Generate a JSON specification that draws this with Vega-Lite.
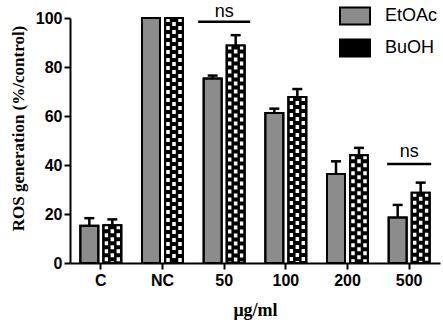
{
  "$schema": "https://vega.github.io/schema/vega-lite/v6.json",
  "width": 370,
  "height": 245,
  "autosize": "none",
  "padding": {"left": 70, "top": 18, "right": 3, "bottom": 61},
  "background": "white",
  "config": {"view": {"stroke": null}, "font": "Liberation Sans"},
  "datasets": {
    "bars": [
      {"dose": "C", "series": "EtOAc", "value": 15.2, "upper": 18.3},
      {"dose": "C", "series": "BuOH", "value": 15.4, "upper": 17.8},
      {"dose": "NC", "series": "EtOAc", "value": 100, "upper": 100},
      {"dose": "NC", "series": "BuOH", "value": 100, "upper": 100},
      {"dose": "50", "series": "EtOAc", "value": 75.3, "upper": 76.5},
      {"dose": "50", "series": "BuOH", "value": 88.8, "upper": 93},
      {"dose": "100", "series": "EtOAc", "value": 61.2, "upper": 63},
      {"dose": "100", "series": "BuOH", "value": 67.8, "upper": 71},
      {"dose": "200", "series": "EtOAc", "value": 36.3, "upper": 41.5},
      {"dose": "200", "series": "BuOH", "value": 44, "upper": 47},
      {"dose": "500", "series": "EtOAc", "value": 18.6, "upper": 23.7},
      {"dose": "500", "series": "BuOH", "value": 28.7, "upper": 32.8}
    ],
    "ns": [
      {"dose": "50", "line": 98.5, "label": 102.6},
      {"dose": "500", "line": 40.4, "label": 45.3}
    ]
  },
  "encoding": {
    "x": {
      "field": "dose",
      "type": "nominal",
      "sort": ["C", "NC", "50", "100", "200", "500"],
      "scale": {"paddingInner": 0, "paddingOuter": 0},
      "axis": {
        "title": "μg/ml",
        "titleFont": "Liberation Serif",
        "titleFontSize": 18,
        "titleFontWeight": "bold",
        "titleColor": "black",
        "titlePadding": 13,
        "labelAngle": 0,
        "labelFont": "Liberation Sans",
        "labelFontSize": 16,
        "labelFontWeight": "bold",
        "labelColor": "black",
        "labelPadding": 3,
        "domainColor": "black",
        "domainWidth": 2,
        "tickColor": "black",
        "tickWidth": 2,
        "tickSize": 6
      }
    }
  },
  "layer": [
    {
      "data": {"name": "bars"},
      "transform": [{"filter": "datum.upper > datum.value"}],
      "mark": {"type": "rule", "color": "black", "strokeWidth": 2.5},
      "encoding": {
        "xOffset": {
          "field": "series",
          "type": "nominal",
          "sort": ["EtOAc", "BuOH"],
          "scale": {"domain": ["EtOAc", "BuOH"], "paddingInner": 0.2174, "paddingOuter": 0.449}
        },
        "y": {
          "field": "value",
          "type": "quantitative",
          "scale": {"domain": [0, 100], "nice": false},
          "axis": {
            "title": "ROS generation (%/control)",
            "titleFont": "Liberation Serif",
            "titleFontSize": 17,
            "titleFontWeight": "bold",
            "titleColor": "black",
            "titleAnchor": "middle",
            "titleBaseline": "bottom",
            "titleAngle": -90,
            "titleX": -43,
            "titleY": 110,
            "values": [0, 20, 40, 60, 80, 100],
            "grid": false,
            "labelFont": "Liberation Sans",
            "labelFontSize": 16,
            "labelFontWeight": "bold",
            "labelColor": "black",
            "labelPadding": 2,
            "domainColor": "black",
            "domainWidth": 2,
            "tickColor": "black",
            "tickWidth": 2,
            "tickSize": 6
          }
        },
        "y2": {"field": "upper"}
      }
    },
    {
      "data": {"name": "bars"},
      "transform": [{"filter": "datum.upper > datum.value"}],
      "mark": {"type": "tick", "color": "black", "opacity": 1, "size": 10, "thickness": 2.5, "orient": "horizontal"},
      "encoding": {
        "xOffset": {"field": "series", "type": "nominal", "sort": ["EtOAc", "BuOH"]},
        "y": {"field": "upper", "type": "quantitative"}
      }
    },
    {
      "data": {"name": "bars"},
      "mark": {"type": "bar", "stroke": "black", "strokeWidth": 2},
      "encoding": {
        "xOffset": {"field": "series", "type": "nominal", "sort": ["EtOAc", "BuOH"]},
        "y": {"field": "value", "type": "quantitative"},
        "color": {
          "field": "series",
          "type": "nominal",
          "scale": {"domain": ["EtOAc", "BuOH"], "range": ["#8c8c8c", "#000000"]},
          "legend": {
            "title": null,
            "orient": "none",
            "legendX": 274,
            "legendY": -13,
            "padding": 0,
            "symbolType": "M-1.5,-0.85H1.5V0.85H-1.5Z",
            "symbolSize": 400,
            "symbolStrokeColor": "black",
            "symbolStrokeWidth": 2,
            "symbolOpacity": 1,
            "rowPadding": 6,
            "labelOffset": 19,
            "labelFont": "Liberation Sans",
            "labelFontSize": 18,
            "labelColor": "black"
          }
        }
      }
    },
    {
      "data": {"name": "bars"},
      "transform": [{"filter": "datum.series == 'BuOH'"}],
      "mark": {"type": "rule", "color": "white", "strokeWidth": 3.5, "strokeDash": [4, 4], "xOffset": 5.5},
      "encoding": {
        "y": {"field": "value", "type": "quantitative"},
        "y2": {"datum": 0}
      }
    },
    {
      "data": {"name": "bars"},
      "transform": [{"filter": "datum.series == 'BuOH'"}],
      "mark": {"type": "rule", "color": "white", "strokeWidth": 3.5, "strokeDash": [4, 4], "strokeDashOffset": 4, "xOffset": 11.5},
      "encoding": {
        "y": {"field": "value", "type": "quantitative"},
        "y2": {"datum": 0}
      }
    },
    {
      "data": {"name": "bars"},
      "transform": [{"filter": "datum.series == 'BuOH'"}],
      "mark": {"type": "rule", "color": "white", "strokeWidth": 3.5, "strokeDash": [4, 4], "xOffset": 17.5},
      "encoding": {
        "y": {"field": "value", "type": "quantitative"},
        "y2": {"datum": 0}
      }
    },
    {
      "data": {"name": "bars"},
      "mark": {"type": "bar", "fillOpacity": 0, "stroke": "black", "strokeWidth": 2},
      "encoding": {
        "xOffset": {"field": "series", "type": "nominal", "sort": ["EtOAc", "BuOH"]},
        "y": {"field": "value", "type": "quantitative"}
      }
    },
    {
      "data": {"name": "ns"},
      "transform": [{"filter": "datum.dose == '50'"}],
      "mark": {"type": "tick", "color": "black", "opacity": 1, "size": 52, "thickness": 2.5, "orient": "horizontal"},
      "encoding": {"y": {"field": "line", "type": "quantitative"}}
    },
    {
      "data": {"name": "ns"},
      "transform": [{"filter": "datum.dose == '500'"}],
      "mark": {"type": "tick", "color": "black", "opacity": 1, "size": 44, "thickness": 2.5, "orient": "horizontal"},
      "encoding": {"y": {"field": "line", "type": "quantitative"}}
    },
    {
      "data": {"name": "ns"},
      "mark": {"type": "text", "color": "black", "font": "Liberation Sans", "fontSize": 18, "baseline": "middle", "align": "center"},
      "encoding": {
        "y": {"field": "label", "type": "quantitative"},
        "text": {"value": "ns"}
      }
    }
  ]
}
